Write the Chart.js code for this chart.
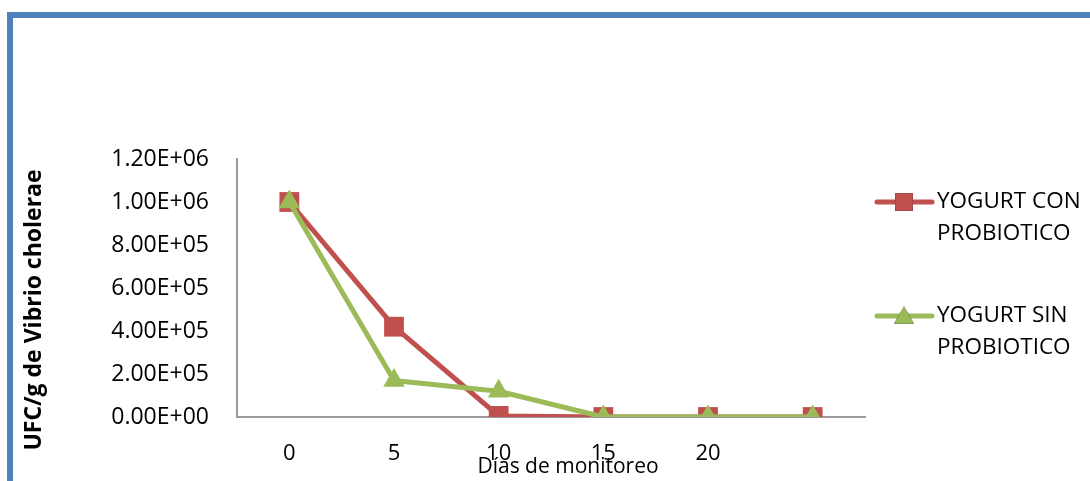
<!DOCTYPE html>
<html>
<head>
<meta charset="utf-8">
<script src="https://cdn.jsdelivr.net/npm/chart.js@4/dist/chart.umd.min.js"></script>
<style>
  html, body { margin:0; padding:0; background:#fff; overflow:hidden; }
  #wrap { position:relative; width:1090px; height:481px; }
  #frame { position:absolute; left:7px; top:12px; width:2000px; height:2000px;
           border-top:6px solid #4F81BD; border-left:6px solid #4F81BD; box-sizing:border-box; }
  canvas { position:absolute; left:0; top:0; }
</style>
</head>
<body>
<div id="wrap">
  <div id="frame"></div>
  <canvas id="c" width="1090" height="481"></canvas>
</div>
<script>
const categories = ['0', '5', '10', '15', '20', ''];
const conProbiotico = [1000000, 420000, 5000, 0, 0, 0];
const sinProbiotico = [1000000, 170000, 120000, 0, 0, 0];
const seriesNames = [['YOGURT CON', 'PROBIOTICO'], ['YOGURT SIN', 'PROBIOTICO']];
const yTitle = 'UFC/g de Vibrio cholerae';
const xTitle = 'Días de monitoreo';

const FONT = "'Open Sans', 'Liberation Sans', sans-serif";
const RED = '#C0504D', GREEN = '#9BBB59';

function fmtExp(v) {
  const [m, e] = Number(v).toExponential(2).split('e');
  const sign = e[0] === '-' ? '-' : '+';
  const d = e.replace(/[+-]/, '').padStart(2, '0');
  return m + 'E' + sign + d;
}

const titlesAndLegend = {
  id: 'titlesAndLegend',
  afterDraw(chart) {
    const ctx = chart.ctx;
    ctx.save();
    ctx.fillStyle = '#000';
    // y title
    ctx.font = "bold 23px " + FONT;
    ctx.textAlign = 'center';
    ctx.textBaseline = 'middle';
    ctx.save();
    ctx.translate(34, 310);
    ctx.rotate(-Math.PI / 2);
    ctx.fillText(yTitle, 0, 0);
    ctx.restore();
    // x title
    ctx.font = "21px " + FONT;
    ctx.fillText(xTitle, 568, 467);
    // legend
    const items = [
      {ds: chart.data.datasets[0], y: 202},
      {ds: chart.data.datasets[1], y: 316}
    ];
    items.forEach((it, i) => {
      const ds = it.ds;
      ctx.strokeStyle = ds.borderColor;
      ctx.lineWidth = 5;
      ctx.lineCap = 'round';
      ctx.beginPath();
      ctx.moveTo(877, it.y);
      ctx.lineTo(932, it.y);
      ctx.stroke();
      Chart.helpers.drawPoint(ctx, {
        pointStyle: ds.pointStyle, radius: ds.pointStyle === 'rect' ? 12.5 : 11.5,
        borderWidth: 0, rotation: 0
      }, 904, it.y + (ds.pointStyle === 'triangle' ? 2 : 0));
      ctx.fillStyle = ds.pointBackgroundColor;
      ctx.fill();
      ctx.fillStyle = '#000';
      ctx.font = "22.5px " + FONT;
      ctx.textAlign = 'left';
      ctx.textBaseline = 'middle';
      seriesNames[i].forEach((t, k) => ctx.fillText(t, 937, it.y + k * 32));
    });
    ctx.restore();
  }
};

new Chart(document.getElementById('c'), {
  type: 'line',
  data: {
    labels: categories,
    datasets: [
      {
        label: seriesNames[0].join(' '),
        data: conProbiotico,
        borderColor: RED, backgroundColor: RED,
        pointBackgroundColor: RED, pointBorderColor: RED,
        borderWidth: 5, pointStyle: 'rect', pointRadius: 14, pointBorderWidth: 0,
        tension: 0, order: 1
      },
      {
        label: seriesNames[1].join(' '),
        data: sinProbiotico,
        borderColor: GREEN, backgroundColor: GREEN,
        pointBackgroundColor: GREEN, pointBorderColor: GREEN,
        borderWidth: 5, pointStyle: 'triangle', pointRadius: 12.5, pointBorderWidth: 0,
        tension: 0, order: 0
      }
    ]
  },
  options: {
    responsive: false,
    animation: false,
    devicePixelRatio: 1,
    layout: { padding: { left: 0, top: 159, right: 225, bottom: 0 } },
    plugins: { legend: { display: false }, tooltip: { enabled: false }, title: { display: false } },
    elements: { line: { borderCapStyle: 'round', borderJoinStyle: 'round' } },
    scales: {
      x: {
        type: 'category',
        offset: true,
        grid: { display: false, drawTicks: false },
        border: { display: true, color: '#9A9A9A', width: 2 },
        ticks: { color: '#000', font: { family: FONT, size: 22 }, padding: 24, maxRotation: 0, autoSkip: false },
        afterFit: s => { s.height = 64; }
      },
      y: {
        min: 0, max: 1200000,
        grid: { display: false, drawTicks: false },
        border: { display: true, color: '#9A9A9A', width: 2 },
        ticks: { stepSize: 200000, color: '#000', font: { family: FONT, size: 23 }, padding: 28,
                 callback: v => fmtExp(v) },
        afterFit: s => { s.width = 237; }
      }
    }
  },
  plugins: [titlesAndLegend]
});
</script>
</body>
</html>
